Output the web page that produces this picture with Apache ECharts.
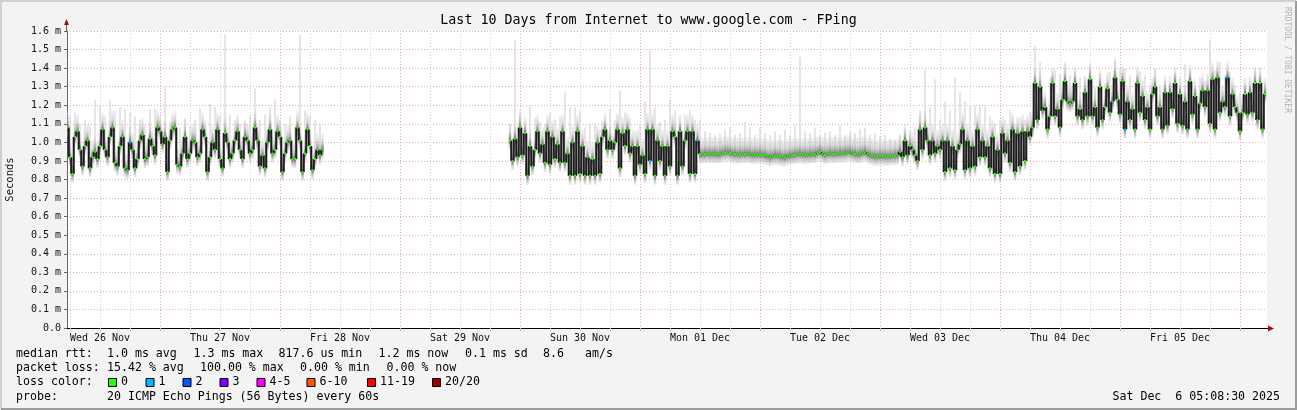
<!DOCTYPE html>
<html><head><meta charset="utf-8">
<script src="https://cdn.jsdelivr.net/npm/echarts@6/dist/echarts.min.js"></script>
<style>html,body{margin:0;padding:0;background:#f3f3f3}#c{width:1297px;height:410px}</style>
</head><body><div id="c"></div>
<script>
// ---------------- data ----------------
const chartTitle = 'Last 10 Days from Internet to www.google.com - FPing';
// x values are hours after Wed 26 Nov 2025 00:00
const axisStartHour = 5.4;
const axisEndHour = 245.4;
const dayLabels = ['Wed 26 Nov','Thu 27 Nov','Fri 28 Nov','Sat 29 Nov','Sun 30 Nov','Mon 01 Dec','Tue 02 Dec','Wed 03 Dec','Thu 04 Dec','Fri 05 Dec'];
const dayLabelHours = [12,36,60,84,108,132,156,180,204,228];
const dayBoundaryHours = [24,48,72,96,120,144,168,192,216,240];
const yTickLabels = ['0.0','0.1 m','0.2 m','0.3 m','0.4 m','0.5 m','0.6 m','0.7 m','0.8 m','0.9 m','1.0 m','1.1 m','1.2 m','1.3 m','1.4 m','1.5 m','1.6 m'];

// median rtt (ms), one value every 30 minutes
const medStepHours = 0.5;
const segAStart = 5.5;   // Wed 26 Nov 05:30
const medianA = [
 1.08,0.92,0.83,1.03,1.06,0.96,0.87,0.98,1.01,0.86,0.92,0.95,0.91,0.98,1.07,0.96,0.92,1.03,1.08,0.89,
 0.87,0.98,1.03,0.86,0.85,1.00,0.96,0.86,0.91,1.01,1.04,0.91,0.92,1.02,0.98,0.93,1.08,1.06,0.99,
 1.03,0.84,1.01,1.07,1.08,0.88,0.87,0.94,1.03,0.91,0.94,1.01,1.00,0.92,0.94,1.07,1.03,0.84,0.92,1.00,0.96,
 1.07,0.91,0.86,1.05,1.00,0.91,0.94,1.01,1.06,0.96,0.91,1.03,1.01,0.94,0.96,1.08,1.01,0.87,0.93,
 0.86,1.00,1.07,0.94,0.96,1.06,1.03,0.84,0.94,1.00,1.01,0.91,0.91,1.08,1.01,0.84,0.94,1.07,0.98,0.85,0.91,0.96,0.93,0.96];
const segBStart = 94;    // Sat 29 Nov 22:00
const medianB = [
 1.01,0.90,1.02,0.92,1.08,0.93,1.05,0.82,0.98,0.87,0.96,1.06,0.94,0.99,0.89,1.06,0.88,1.03,0.91,0.99,
 0.89,1.06,0.89,0.94,0.82,1.00,0.82,1.06,0.83,0.98,0.82,0.92,0.82,0.91,0.82,1.00,0.83,1.03,1.07,0.96,
 1.01,0.96,1.00,1.07,0.86,1.05,0.98,1.07,0.94,0.98,0.82,0.98,0.88,0.93,0.83,1.07,0.90,1.07,0.82,1.01,
 0.90,0.98,0.82,0.98,0.87,1.06,1.03,0.82,1.06,0.87,1.01,1.06,0.83,1.06,0.83,1.01,
 0.937,0.935,0.937,0.939,0.936,0.938,0.938,0.935,0.937,0.942,0.945,0.947,0.943,0.939,0.937,0.935,0.935,0.937,0.937,0.939,
 0.936,0.933,0.933,0.935,0.935,0.932,0.930,0.925,0.920,0.925,0.928,0.927,0.925,0.921,0.920,0.925,0.928,0.931,0.932,0.936,
 0.937,0.934,0.934,0.933,0.935,0.937,0.936,0.943,0.948,0.939,0.932,0.937,0.940,0.938,0.938,0.940,0.940,0.941,0.942,0.946,
 0.947,0.941,0.937,0.935,0.936,0.942,0.946,0.937,0.930,0.927,0.923,0.924,0.926,0.926,0.924,0.923,0.925,0.927,0.928,0.930,
 0.95,0.92,1.01,0.93,0.98,0.96,0.93,0.90,1.07,0.96,1.08,1.01,0.93,1.01,0.94,0.98,0.96,1.01,0.84,1.01,
 0.86,0.98,0.85,0.96,0.99,1.07,0.85,1.01,0.86,0.98,0.87,1.07,0.92,1.01,0.92,0.98,0.86,1.03,0.83,0.96,
 0.83,1.05,0.94,1.01,0.89,1.07,0.84,1.05,0.87,1.06,0.90,1.06,1.03,1.08,1.32,1.12,1.30,1.17,1.19,1.07,
 1.14,1.32,1.14,1.18,1.08,1.23,1.33,1.22,1.21,1.22,1.32,1.14,1.18,1.12,1.27,1.14,
 1.34,1.14,1.19,1.08,1.30,1.12,1.19,1.29,1.16,1.22,1.35,1.23,1.15,1.33,1.07,1.22,1.12,1.18,1.07,1.32,
 1.16,1.25,1.12,1.19,1.07,1.26,1.30,1.14,1.19,1.07,1.27,1.09,1.27,1.18,1.32,1.10,1.26,1.09,1.22,1.07,
 1.33,1.15,1.25,1.07,1.21,1.28,1.19,1.28,1.10,1.34,1.07,1.35,1.16,1.22,1.19,1.35,1.14,1.26,1.19,1.16,
 1.06,1.16,1.26,1.15,1.27,1.16,1.32,1.12,1.32,1.07,1.26];

// tallest ping of each hour (ms) - the light smoke spikes
const spikeAStart = 6;
const smokeHiA = [1.14,1.16,1.10,1.12,1.09,1.23,1.20,1.14,1.23,1.17,1.19,1.18,1.16,1.14,1.12,1.09,1.18,1.18,1.12,1.30,1.11,1.10,1.08,1.13,1.09,1.12,1.18,1.10,1.21,1.19,1.14,1.58,1.15,1.12,1.10,1.11,1.14,1.29,1.12,1.15,1.19,1.23,1.12,1.10,1.14,1.09,1.58,1.17,1.14,1.12,1.10];
const spikeBStart = 94;
const smokeHiB = [
 1.10,1.55,1.15,1.09,1.20,1.13,1.11,1.10,1.16,1.12,1.14,1.27,1.19,1.19,1.17,1.08,1.10,1.10,1.07,1.11,1.18,1.12,1.28,1.16,1.13,1.06,1.10,1.22,1.50,1.19,1.11,1.12,1.23,1.17,1.10,1.15,1.17,1.12,
 1.12,1.06,1.05,1.04,1.05,1.07,1.08,1.04,1.05,1.11,1.08,1.04,1.08,1.05,1.04,1.06,1.04,1.07,1.04,1.09,1.46,1.06,1.05,1.08,1.04,1.05,1.06,1.04,1.09,1.04,1.06,1.05,1.07,1.08,1.04,1.05,1.03,1.04,1.02,1.01,
 1.04,1.07,1.06,1.08,1.17,1.39,1.19,1.34,1.12,1.22,1.17,1.35,1.27,1.22,1.20,1.20,1.19,1.20,1.14,1.10,1.12,1.12,1.17,1.10,1.13,1.12,1.16,1.52,1.43,1.24,1.35,1.39,1.37,1.43,1.36,1.38,1.35,1.35,1.41,
 1.30,1.37,1.32,1.38,1.45,1.40,1.40,1.36,1.33,1.38,1.36,1.31,1.40,1.31,1.33,1.32,1.37,1.30,1.42,1.39,1.29,1.35,1.33,1.55,1.39,1.43,1.36,1.38,1.31,1.27,1.30,1.30,1.39,1.33,1.32];
// times (hours) of medians where 1 of 20 pings was lost
const lossOneTimes = [18, 122, 131.5, 214.5, 217, 237.5];

const lossLabels = ['0','1','2','3','4-5','6-10','11-19','20/20'];
const lossColors = ['#26ff00','#00b8ff','#0059ff','#7e00ff','#ff00ff','#ff5500','#ff0000','#a10000'];
const legendRows = [
 [['median rtt:', 16], ['1.0 ms avg', 107], ['1.3 ms max', 193.5], ['817.6 us min', 278.5], ['1.2 ms now', 378.5], ['0.1 ms sd', 465], ['8.6', 543], ['am/s', 585]],
 [['packet loss:', 16], ['15.42 % avg', 107], ['100.00 % max', 200], ['0.00 % min', 300], ['0.00 % now', 386.5]],
 [['loss color:', 16]],
 [['probe:', 16], ['20 ICMP Echo Pings (56 Bytes) every 60s', 107]]
];
const stampText = 'Sat Dec  6 05:08:30 2025';
const vendorText = 'RRDTOOL / TOBI OETIKER';

// ---------------- build ----------------
const MONO = '"DejaVu Sans Mono", "Liberation Mono", monospace';
function medRows(start, med) {
  return med.map((m, i) => {
    const h = start + i * medStepHours;
    return [h, m, lossOneTimes.indexOf(h) >= 0 ? 1 : 0];
  });
}
function stepRows(start, med) {
  const out = [];
  for (let i = 0; i + 1 < med.length; i++) out.push([start + (i + 0.5) * medStepHours, med[i], med[i + 1]]);
  return out;
}
function spikeRows(spStart, hi, medStart, med) {
  return hi.map((v, i) => {
    const h = spStart + i;
    return [h, med[Math.round((h - medStart) / medStepHours)], v];
  });
}
const medianRows = medRows(segAStart, medianA).concat(medRows(segBStart, medianB));
const steps = stepRows(segAStart, medianA).concat(stepRows(segBStart, medianB));
const spikes = spikeRows(spikeAStart, smokeHiA, segAStart, medianA).concat(spikeRows(spikeBStart, smokeHiB, segBStart, medianB));
const gridHours = [];
for (let h = 6; h <= 240; h += 6) if (h % 24) gridHours.push(h);

// light grey spikes (max ping per hour)
function renderSpike(params, api) {
  const h = api.value(0), m = api.value(1), hi = api.value(2);
  const pm = api.coord([h, m]), ph = api.coord([h, hi]);
  if (ph[1] >= pm[1]) return null;
  return { type: 'rect', shape: { x: pm[0] - 0.6, y: ph[1], width: 1.2, height: pm[1] - ph[1] }, style: { fill: '#d4d4d4' } };
}
// smoke haze drawn around every median
function renderHaze(params, api) {
  const h = api.value(0), m = api.value(1);
  const w = api.size([medStepHours, 0])[0];
  const pt = api.coord([h, m + 0.09]), pm = api.coord([h, m]), pb = api.coord([h, m - 0.05]);
  const span = pb[1] - pt[1];
  const f = (pm[1] - pt[1]) / span;
  return { type: 'rect', shape: { x: pm[0] - w / 2, y: pt[1], width: w, height: span },
    style: { fill: new echarts.graphic.LinearGradient(0, 0, 0, 1, [
      { offset: 0, color: 'rgba(215,215,215,0.3)' },
      { offset: f * 0.5, color: 'rgba(185,185,185,0.6)' },
      { offset: f * 0.85, color: 'rgba(130,130,130,0.85)' },
      { offset: f, color: 'rgba(80,80,80,0.95)' },
      { offset: f + (1 - f) * 0.4, color: 'rgba(150,150,150,0.7)' },
      { offset: 1, color: 'rgba(205,205,205,0.3)' }]) } };
}
function renderStep(params, api) {
  const h = api.value(0);
  const a = api.coord([h, api.value(1)]), b = api.coord([h, api.value(2)]);
  const top = Math.min(a[1], b[1]), bot = Math.max(a[1], b[1]);
  return { type: 'rect', shape: { x: a[0] - 1.05, y: top, width: 2.1, height: Math.max(0.6, bot - top) }, style: { fill: '#1c1c1c' } };
}
function renderCap(params, api) {
  const h = api.value(0), m = api.value(1), loss = api.value(2);
  const w = api.size([medStepHours, 0])[0];
  const p = api.coord([h, m]);
  return { type: 'rect', shape: { x: p[0] - w * 0.4, y: p[1] - 1, width: w * 0.8, height: 2 }, style: { fill: lossColors[loss] } };
}

const GL = 67, GT = 31, GW = 1200, GH = 297;
const FONT = '11.6px ' + MONO;
const txt = (t, x, y, extra) => Object.assign({ type: 'text', silent: true, style: Object.assign({ text: t, x: x, y: y, font: FONT, fill: '#000', align: 'left', verticalAlign: 'middle', textAlign: 'left', textVerticalAlign: 'middle' }, extra || {}) });
const graphics = [
  { type: 'polyline', silent: true, shape: { points: [[1, 409], [1, 1], [1296, 1]] }, style: { stroke: '#d0d0d0', lineWidth: 2, fill: null } },
  { type: 'polyline', silent: true, shape: { points: [[1, 409], [1296, 409], [1296, 1]] }, style: { stroke: '#9c9c9c', lineWidth: 2, fill: null } },
  { type: 'line', silent: true, shape: { x1: GL - 0.5, y1: GT, x2: GL - 0.5, y2: GT - 7 }, style: { stroke: '#666', lineWidth: 1 } },
  { type: 'polygon', silent: true, shape: { points: [[GL - 3, GT - 6], [GL + 2, GT - 6], [GL - 0.5, GT - 12]] }, style: { fill: '#8b1a1a' } },
  { type: 'line', silent: true, shape: { x1: GL + GW, y1: GT + GH + 0.5, x2: GL + GW + 2, y2: GT + GH + 0.5 }, style: { stroke: '#000', lineWidth: 1 } },
  { type: 'polygon', silent: true, shape: { points: [[GL + GW + 1, GT + GH - 2.5], [GL + GW + 1, GT + GH + 3.5], [GL + GW + 7, GT + GH + 0.5]] }, style: { fill: '#8b1a1a' } },
  txt(stampText, 1280, 396.5, { align: 'right', textAlign: 'right' }),
  { type: 'text', silent: true, x: 1287, y: 60, rotation: -Math.PI / 2,
    style: { text: vendorText, x: 0, y: 0, font: '8px ' + MONO, fill: '#b4b4b4', align: 'center', verticalAlign: 'middle', textAlign: 'center', textVerticalAlign: 'middle' } }
];
const rowY = [353.5, 368, 382, 396.5];
legendRows.forEach((row, r) => row.forEach(([t, x]) => graphics.push(txt(t, x, rowY[r]))));
const boxX = [108, 145.5, 182.5, 219.5, 256.5, 306.5, 367, 432];
lossLabels.forEach((lab, i) => {
  graphics.push({ type: 'rect', silent: true, shape: { x: boxX[i] + 0.5, y: 378.5, width: 8, height: 8 }, style: { fill: lossColors[i], stroke: '#000', lineWidth: 1 } });
  graphics.push(txt(lab, boxX[i] + 13, rowY[2]));
});

const chart = echarts.init(document.getElementById('c'), null, { renderer: 'canvas' });
chart.setOption({
  animation: false,
  backgroundColor: '#f3f3f3',
  title: { text: chartTitle, left: 'center', top: 9, textStyle: { fontFamily: MONO, fontSize: 13.3, fontWeight: 'normal', color: '#000' } },
  grid: { left: GL, top: GT, width: GW, height: GH, show: true, backgroundColor: '#fff', borderWidth: 0, containLabel: false, outerBoundsMode: 'none' },
  xAxis: [{
    type: 'value', min: axisStartHour, max: axisEndHour,
    axisLine: { show: true, onZero: false, lineStyle: { color: '#000', width: 1 } },
    axisTick: { show: true, length: 3, customValues: gridHours, lineStyle: { color: '#c8c8c8' } },
    axisLabel: { customValues: dayLabelHours, margin: 5, fontFamily: MONO, fontSize: 10, color: '#111',
      formatter: v => dayLabels[dayLabelHours.indexOf(Math.round(v))] },
    splitLine: { show: true, lineStyle: { color: '#cfcfcf', width: 1, type: [1, 2] } }
  }, {
    type: 'value', min: axisStartHour, max: axisEndHour, position: 'bottom',
    axisLine: { show: false },
    axisTick: { show: true, length: 3, customValues: dayBoundaryHours, lineStyle: { color: '#f0a0a0' } },
    axisLabel: { show: false },
    splitLine: { show: true, lineStyle: { color: '#f0a4a4', width: 1, type: [1, 2] } }
  }],
  yAxis: {
    type: 'value', min: 0, max: 1.6, interval: 0.1,
    name: 'Seconds', nameLocation: 'middle', nameGap: 51, nameRotate: 90,
    nameTextStyle: { fontFamily: MONO, fontSize: 10.5, color: '#111' },
    axisLine: { show: true, lineStyle: { color: '#666' } },
    axisTick: { show: true, length: 3, lineStyle: { color: '#666' } },
    axisLabel: { margin: 6, fontFamily: MONO, fontSize: 10, color: '#111', formatter: v => yTickLabels[Math.round(v * 10)] },
    splitLine: { show: true, lineStyle: { color: '#f0a8a8', width: 1, type: [1, 2] } }
  },
  series: [
    { type: 'custom', name: 'smoke max', renderItem: renderSpike, data: spikes, encode: { x: 0, y: 2 }, clip: true, silent: true, z: 1 },
    { type: 'custom', name: 'smoke', renderItem: renderHaze, data: medianRows, encode: { x: 0, y: 1 }, clip: true, silent: true, z: 2 },
    { type: 'custom', name: 'median steps', renderItem: renderStep, data: steps, encode: { x: 0, y: [1, 2] }, clip: true, silent: true, z: 3 },
    { type: 'custom', name: 'median / loss', renderItem: renderCap, data: medianRows, encode: { x: 0, y: 1 }, clip: true, silent: true, z: 4 }
  ],
  graphic: graphics
});
</script></body></html>
